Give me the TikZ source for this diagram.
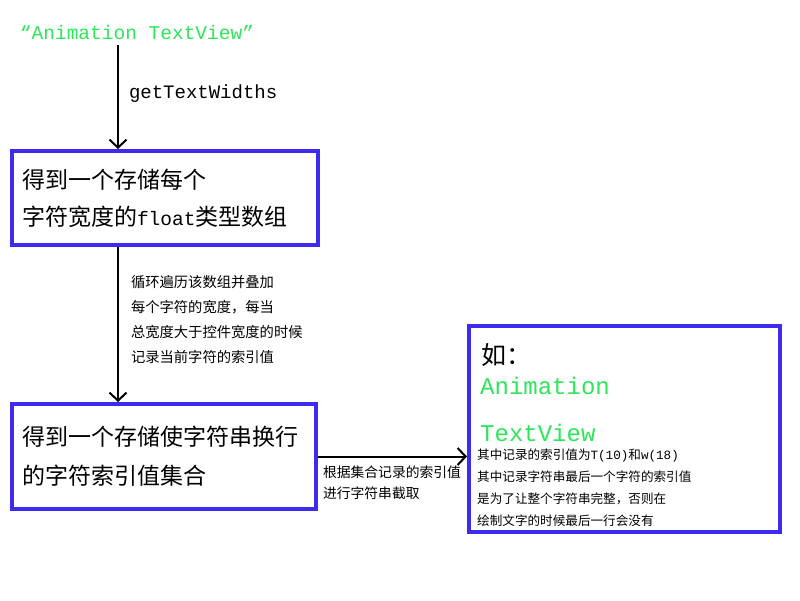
\documentclass[tikz,border=0pt]{standalone}
\usepackage{fontspec}
\setmainfont{Noto Sans CJK SC}
\setmonofont{Liberation Mono}
\usetikzlibrary{arrows.meta, positioning}
\definecolor{boxblue}{HTML}{3D2CF0}
\definecolor{codegreen}{HTML}{2EE65A}

\begin{document}
\begin{tikzpicture}[
    x=1pt, y=-1pt,
    box/.style={rectangle, draw=boxblue, line width=4pt, align=left, inner xsep=10pt, inner ysep=0pt},
    flow/.style={-{Straight Barb[length=8pt,width=17pt]}, line width=2pt},
    note/.style={align=left, inner sep=0pt},
]
\useasboundingbox (0,0) rectangle (800,600);

% Source string
\node[inner sep=0pt, text=codegreen, font=\fontsize{19.5}{20}\ttfamily] (title) at (137,33) {“Animation TextView”};

% Width array
\node[box, minimum width=306pt, minimum height=94pt, text width=286pt,
      font=\fontsize{23}{37}\selectfont] (widths) at (165,198)
      {得到一个存储每个\\字符宽度的{\fontsize{19.5}{37}\ttfamily float}类型数组};

% Index set
\node[box, minimum width=304pt, minimum height=105pt, text width=284pt,
      font=\fontsize{23}{39}\selectfont] (indices) at (164,456.5)
      {得到一个存储使字符串换行\\的字符索引值集合};

% Example
\node[box, minimum width=311pt, minimum height=206pt] (example) at (624.5,429) {};
\node[note, anchor=west, font=\fontsize{25}{25}\selectfont] (ru) at (481,355) {如：};
\node[note, anchor=west, text=codegreen, font=\fontsize{24}{24}\ttfamily] (anim) at (480,386) {Animation};
\node[note, anchor=west, text=codegreen, font=\fontsize{24}{24}\ttfamily] (tview) at (480,433) {TextView};
\node[note, anchor=north west, font=\fontsize{12.6}{22}\selectfont] (remark) at (477,449)
      {其中记录的索引值为{\ttfamily T(10)}和{\ttfamily w(18)}\\其中记录字符串最后一个字符的索引值\\是为了让整个字符串完整，否则在\\绘制文字的时候最后一行会没有};

% Arrows
\coordinate (stem) at (118,45);
\draw[flow] (stem) -- (stem |- widths.north)
    node[note, right, pos=0.47, xshift=10pt, font=\fontsize{19}{19}\ttfamily] {getTextWidths};
\draw[flow] (widths.south -| stem) -- (indices.north -| stem)
    node[note, right, pos=0.47, xshift=12pt, font=\fontsize{14.3}{25}\selectfont]
    {循环遍历该数组并叠加\\每个字符的宽度，每当\\总宽度大于控件宽度的时候\\记录当前字符的索引值};
\draw[flow] (indices.east) -- (indices.east -| example.west)
    node[note, below right, pos=0, xshift=4pt, yshift=-8pt, font=\fontsize{13.8}{21}\selectfont]
    {根据集合记录的索引值\\进行字符串截取};

\end{tikzpicture}
\end{document}
